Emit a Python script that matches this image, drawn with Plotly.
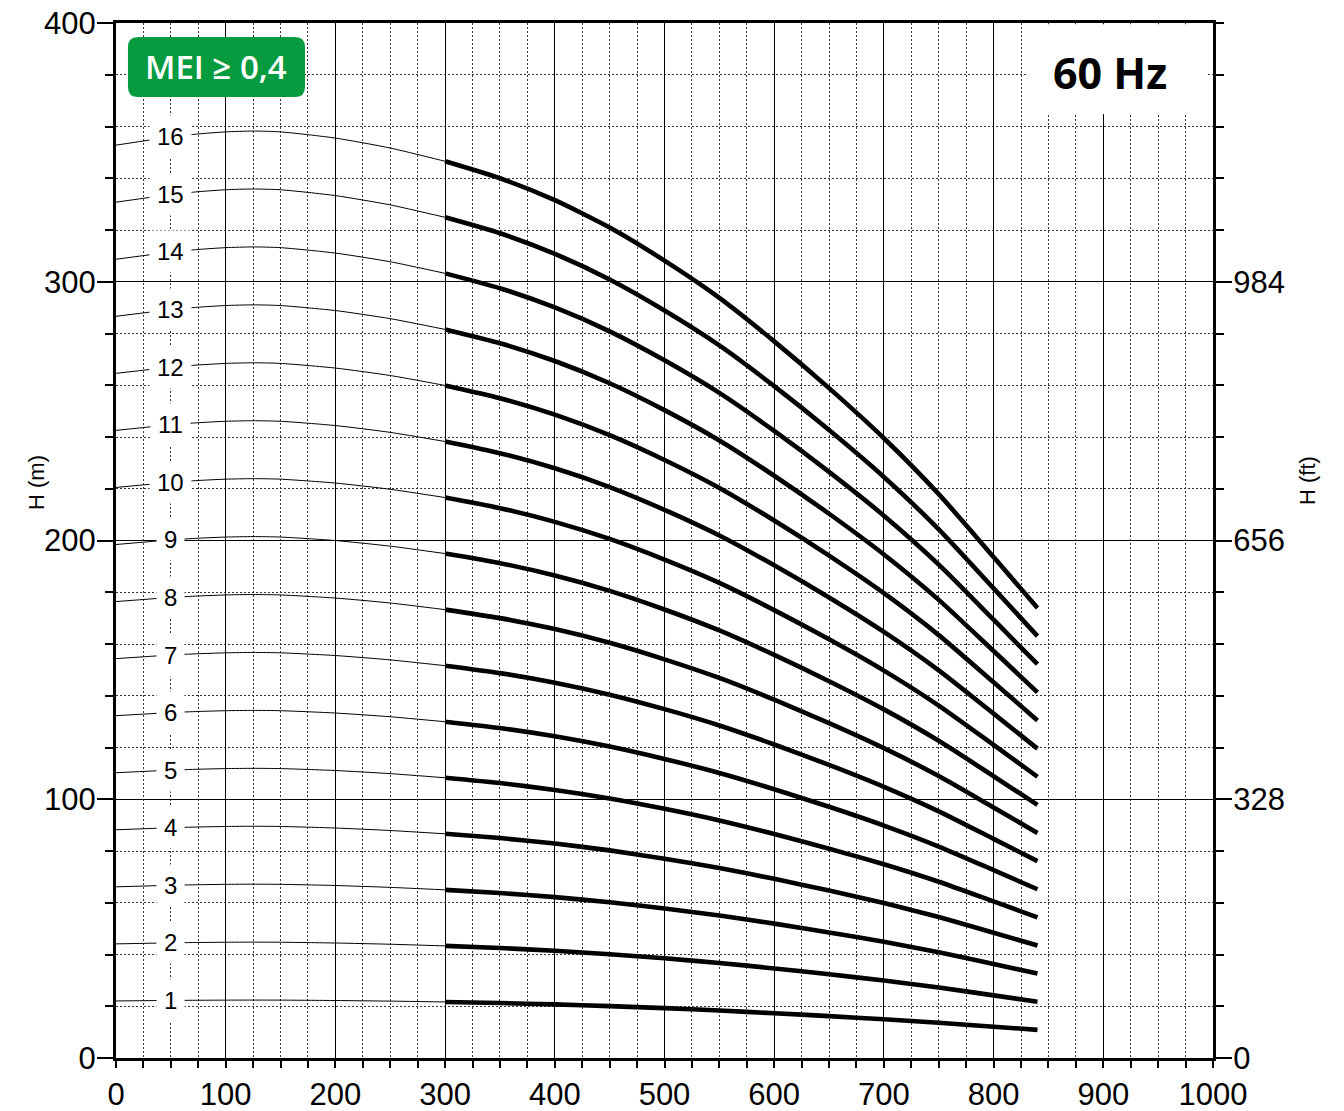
import plotly.graph_objects as go

# ---- data ----
STAGES = list(range(1, 17))
# per-stage head (m) on the thin (out-of-range) part of the curve
Q_THIN = [0, 25, 50, 75, 100, 125, 150, 200, 250, 300]
H_THIN = [22.05, 22.15, 22.25, 22.32, 22.37, 22.39, 22.37, 22.22, 21.98, 21.66]
# per-stage head (m) on the thick (operating range) part of the curve
Q_DUTY = [300, 350, 400, 450, 500, 550, 600, 650, 700, 750, 800, 840]
H_DUTY = [21.66, 21.25, 20.72, 20.06, 19.26, 18.36, 17.31, 16.18, 14.97, 13.62, 12.10, 10.87]
LABEL_Q = 50

X_TICKS = [0, 100, 200, 300, 400, 500, 600, 700, 800, 900, 1000]
Y_TICKS_M = [0, 100, 200, 300, 400]
Y_TICKS_FT_POS = [0, 100, 200, 300]
Y_TICKS_FT_TEXT = ["0", "328", "656", "984"]

# ---- figure ----
fig = go.Figure()

def interp(qs, hs, q):
    for i in range(len(qs) - 1):
        if qs[i] <= q <= qs[i + 1]:
            t = (q - qs[i]) / (qs[i + 1] - qs[i])
            return hs[i] + t * (hs[i + 1] - hs[i])
    return hs[-1]

for n in STAGES:
    fig.add_trace(go.Scatter(
        x=Q_THIN, y=[n * h for h in H_THIN], mode="lines",
        line=dict(color="black", width=1, shape="spline", smoothing=0.6),
        hoverinfo="skip", showlegend=False))
    fig.add_trace(go.Scatter(
        x=Q_DUTY, y=[n * h for h in H_DUTY], mode="lines",
        line=dict(color="black", width=4.6, shape="spline", smoothing=0.6),
        hoverinfo="skip", showlegend=False))

# invisible trace so right axis exists
fig.add_trace(go.Scatter(x=[0], y=[0], yaxis="y2", mode="markers",
                         marker=dict(opacity=0), hoverinfo="skip", showlegend=False))

annotations = []
for n in STAGES:
    annotations.append(dict(
        x=LABEL_Q, y=n * interp(Q_THIN, H_THIN, LABEL_Q), xref="x", yref="y",
        text=str(n), showarrow=False, bgcolor="white", borderpad=7,
        font=dict(family="Liberation Sans, Arial", size=24, color="black")))

annotations.append(dict(
    x=906, y=380.7, xref="x", yref="y", text="<b>60 Hz</b>", showarrow=False,
    font=dict(family="Open Sans", size=43, color="black")))
annotations.append(dict(
    x=91.4, y=383.2, xref="x", yref="y", text="MEI ≥ 0,4", showarrow=False,
    font=dict(family="Open Sans", size=33, color="white", weight=600)))
annotations.append(dict(
    x=-0.0857, y=0.556, xref="paper", yref="paper", text="H (m)", textangle=-90,
    showarrow=False, font=dict(family="Liberation Sans, Arial", size=22, color="black")))
annotations.append(dict(
    x=1.0994, y=0.558, xref="paper", yref="paper", text="H (ft)", textangle=-90,
    showarrow=False, font=dict(family="Liberation Sans, Arial", size=22, color="black")))

# rounded green badge
x0, x1, y0, y1 = 10.9, 172.3, 371.4, 394.6
rx, ry = 9.1, 3.9
badge = (f"M {x0+rx},{y1} L {x1-rx},{y1} Q {x1},{y1} {x1},{y1-ry} "
         f"L {x1},{y0+ry} Q {x1},{y0} {x1-rx},{y0} L {x0+rx},{y0} "
         f"Q {x0},{y0} {x0},{y0+ry} L {x0},{y1-ry} Q {x0},{y1} {x0+rx},{y1} Z")

shapes = [
    dict(type="rect", xref="x", yref="y", x0=831.5, x1=993.5, y0=364.8, y1=399.5,
         fillcolor="white", line=dict(width=0), layer="between"),
    dict(type="path", xref="x", yref="y", path=badge, fillcolor="#079b3f",
         line=dict(width=0), layer="above"),
]

grid_dash = "2px,2px"
tick_font = dict(family="Liberation Sans, Arial", size=31, color="black")
fig.update_layout(
    width=1344, height=1111,
    margin=dict(l=116, r=131, t=23, b=53, autoexpand=False),
    paper_bgcolor="white", plot_bgcolor="white",
    showlegend=False,
    annotations=annotations, shapes=shapes,
    xaxis=dict(
        range=[0, 1000], tickvals=X_TICKS, ticks="outside", ticklen=7, tickwidth=1.5,
        tickcolor="black", tickfont=tick_font, automargin=False,
        showgrid=True, gridcolor="black", gridwidth=1,
        showline=True, linecolor="black", linewidth=3, mirror=True,
        zeroline=False,
        minor=dict(dtick=25, ticks="outside", ticklen=7, tickwidth=1.5, tickcolor="black",
                   showgrid=True, gridcolor="#333333", gridwidth=1, griddash=grid_dash),
    ),
    yaxis=dict(
        range=[0, 400], tickvals=Y_TICKS_M, ticks="outside", ticklen=16, tickwidth=1.5,
        tickcolor="black", tickfont=tick_font, automargin=False, ticklabelstandoff=-5,
        showgrid=True, gridcolor="black", gridwidth=1,
        showline=True, linecolor="black", linewidth=3, mirror=True,
        zeroline=False,
        minor=dict(dtick=20, ticks="outside", ticklen=8, tickwidth=1.5, tickcolor="black",
                   showgrid=True, gridcolor="#333333", gridwidth=1, griddash=grid_dash),
    ),
    yaxis2=dict(
        range=[0, 400], overlaying="y", side="right",
        tickvals=Y_TICKS_FT_POS, ticktext=Y_TICKS_FT_TEXT,
        ticks="outside", ticklen=16, tickwidth=1.5, tickcolor="black",
        tickfont=tick_font, automargin=False, ticklabelstandoff=-5,
        showgrid=False, showline=True, linecolor="black", linewidth=3, zeroline=False,
        minor=dict(dtick=20, ticks="outside", ticklen=8, tickwidth=1.5, tickcolor="black",
                   showgrid=False),
    ),
)

fig.write_html("out.html")
